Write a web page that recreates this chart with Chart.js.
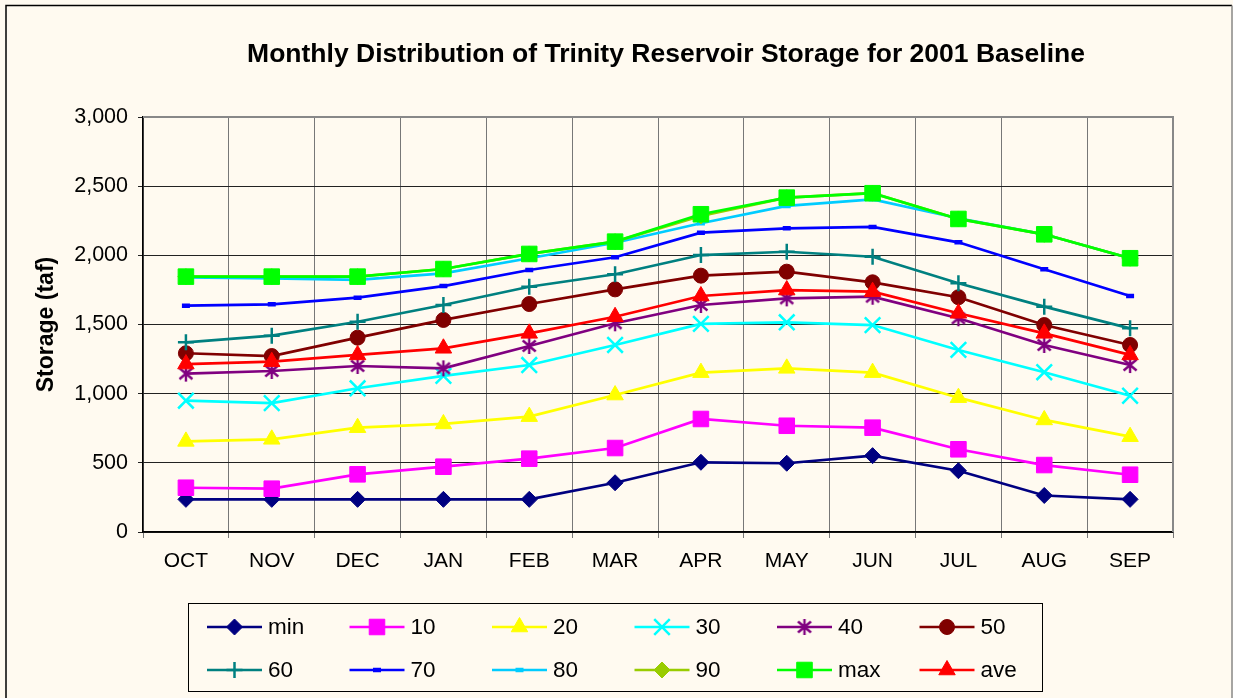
<!DOCTYPE html>
<html>
<head>
<meta charset="utf-8">
<script src="https://cdn.jsdelivr.net/npm/chart.js@4.4.1/dist/chart.umd.min.js"></script>
<style>
  html, body { margin: 0; padding: 0; background: #fffaf0; }
  canvas { display: block; }
</style>
</head>
<body>
<canvas id="storage-chart" width="1233" height="698"></canvas>
<script>
// Data (taf)
const months = ['OCT', 'NOV', 'DEC', 'JAN', 'FEB', 'MAR', 'APR', 'MAY', 'JUN', 'JUL', 'AUG', 'SEP'];
const yTicks = [0, 500, 1000, 1500, 2000, 2500, 3000];

const minVals = [236, 236, 236, 236, 236, 356, 504, 497, 552, 443, 264, 236];
const p10 = [320, 313, 417, 472, 530, 607, 817, 768, 754, 598, 484, 414];
const p20 = [655, 670, 754, 781, 834, 990, 1152, 1183, 1152, 971, 810, 689];
const p30 = [949, 932, 1039, 1128, 1207, 1352, 1504, 1516, 1496, 1316, 1155, 985];
const p40 = [1145, 1164, 1200, 1183, 1345, 1509, 1641, 1689, 1701, 1545, 1352, 1207];
const p50 = [1292, 1272, 1405, 1533, 1648, 1754, 1853, 1882, 1805, 1697, 1496, 1352];
const p60 = [1371, 1419, 1520, 1641, 1773, 1863, 2002, 2026, 1990, 1798, 1629, 1472];
const p70 = [1636, 1646, 1694, 1778, 1894, 1986, 2164, 2195, 2205, 2094, 1899, 1706];
const p80 = [1841, 1834, 1822, 1870, 1979, 2091, 2232, 2357, 2405, 2268, 2152, 1979];
const p90 = [1846, 1846, 1846, 1901, 2010, 2099, 2285, 2417, 2449, 2263, 2152, 1979];
const maxVals = [1846, 1846, 1846, 1901, 2010, 2099, 2297, 2417, 2449, 2263, 2152, 1979];
const aveVals = [1214, 1231, 1280, 1328, 1436, 1556, 1706, 1749, 1737, 1581, 1436, 1280];

const bg = '#fffaf0';
const font = '"Liberation Sans", Arial, sans-serif';

// Excel-like asterisk marker (vertical bar plus an X)
function makeAsterisk(color) {
    let c = document.createElement('canvas');
    c.width = 18;
    c.height = 18;
    let g = c.getContext('2d');
    g.strokeStyle = color;
    g.lineWidth = 2.4;
    g.beginPath();
    g.moveTo(9, 1); g.lineTo(9, 17);
    g.moveTo(2.5, 3.5); g.lineTo(15.5, 14.5);
    g.moveTo(15.5, 3.5); g.lineTo(2.5, 14.5);
    g.stroke();
    return c;
}

function series(label, data, color, style, radius, borderW) {
    return {
        label: label,
        data: data,
        borderColor: color,
        backgroundColor: color,
        borderWidth: 2.7,
        pointStyle: style,
        pointRadius: radius,
        pointBackgroundColor: color,
        pointBorderColor: color,
        pointBorderWidth: borderW || 1,
        tension: 0,
        fill: false
    };
}

let datasets = [
    series('min', minVals, '#000080', 'rectRot', 8),
    series('10', p10, '#ff00ff', 'rect', 11),
    series('20', p20, '#ffff00', 'triangle', 9.5),
    series('30', p30, '#00ffff', 'crossRot', 11, 2.5),
    series('40', p40, '#800080', makeAsterisk('#800080'), 9),
    series('50', p50, '#800000', 'circle', 7.5),
    series('60', p60, '#008080', 'cross', 8, 2.5),
    series('70', p70, '#0000ff', 'line', 4, 4.5),
    series('80', p80, '#00ccff', 'line', 4, 4.5),
    series('90', p90, '#99cc00', 'rectRot', 8),
    series('max', maxVals, '#00ff00', 'rect', 11),
    series('ave', aveVals, '#ff0000', 'triangle', 9.5)
];
// later series sit on top, like the original
datasets.forEach(function(ds, i) { ds.order = -i; });

// Background, frame, title and boxed legend
let framePlugin = {
    id: 'frame',
    beforeDraw: function(chart) {
        let ctx = chart.ctx;
        ctx.save();
        ctx.fillStyle = bg;
        ctx.fillRect(0, 0, chart.width, chart.height);
        ctx.lineWidth = 1.5;
        ctx.strokeStyle = '#000';
        ctx.beginPath();
        ctx.moveTo(6, 698); ctx.lineTo(6, 5.5); ctx.lineTo(1232, 5.5);
        ctx.stroke();
        ctx.strokeStyle = '#888';
        ctx.beginPath();
        ctx.moveTo(1232, 5.5); ctx.lineTo(1232, 698);
        ctx.stroke();
        ctx.restore();
    },
    beforeDatasetsDraw: function(chart) {
        let a = chart.chartArea;
        let ctx = chart.ctx;
        ctx.save();
        ctx.strokeStyle = '#888';
        ctx.lineWidth = 2;
        ctx.beginPath();
        ctx.moveTo(a.left, a.top); ctx.lineTo(a.right, a.top); ctx.lineTo(a.right, a.bottom);
        ctx.stroke();
        ctx.restore();
    },
    afterDraw: function(chart) {
        let ctx = chart.ctx;
        ctx.save();
        ctx.fillStyle = '#000';
        ctx.font = 'bold 26.5px ' + font;
        ctx.textAlign = 'center';
        ctx.textBaseline = 'middle';
        ctx.fillText('Monthly Distribution of Trinity Reservoir Storage for 2001 Baseline', 666, 55);

        // legend box
        ctx.strokeStyle = '#000';
        ctx.lineWidth = 1;
        ctx.strokeRect(188.5, 603.5, 854, 88);
        ctx.font = '22.5px ' + font;
        ctx.textAlign = 'left';
        chart.data.datasets.forEach(function(ds, i) {
            let col = i % 6;
            let row = Math.floor(i / 6);
            let x = 207 + col * 142.5;
            let y = row ? 670 : 627;
            ctx.strokeStyle = ds.borderColor;
            ctx.lineWidth = ds.borderWidth;
            ctx.beginPath();
            ctx.moveTo(x, y); ctx.lineTo(x + 55, y);
            ctx.stroke();
            ctx.fillStyle = ds.pointBackgroundColor;
            ctx.strokeStyle = ds.pointBorderColor;
            ctx.lineWidth = ds.pointBorderWidth;
            Chart.helpers.drawPoint(ctx, {
                pointStyle: ds.pointStyle,
                radius: ds.pointRadius,
                borderWidth: ds.pointBorderWidth,
                rotation: 0
            }, x + 27.5, y);
            ctx.fillStyle = '#000';
            ctx.fillText(ds.label, x + 61, y + 1);
        });
        ctx.restore();
    }
};

let chartDom = document.getElementById('storage-chart').getContext('2d');
let chartJS = new Chart(chartDom, {
    type: 'line',
    data: { labels: months, datasets: datasets },
    plugins: [framePlugin],
    options: {
        responsive: false,
        animation: false,
        events: [],
        layout: { padding: { top: 117, left: 0, right: 60, bottom: 0 } },
        plugins: {
            legend: { display: false },
            title: { display: false },
            tooltip: { enabled: false }
        },
        scales: {
            x: {
                offset: true,
                afterFit: function(scale) { scale.height = 166; },
                grid: {
                    offset: true,
                    color: '#777',
                    lineWidth: 1,
                    tickLength: 6
                },
                border: { color: '#000', width: 1.5 },
                ticks: {
                    color: '#000',
                    padding: 11,
                    maxRotation: 0,
                    font: { family: font, size: 21 }
                }
            },
            y: {
                min: 0,
                max: 3000,
                afterFit: function(scale) { scale.width = 143; },
                afterBuildTicks: function(scale) {
                    scale.ticks = yTicks.map(function(v) { return { value: v }; });
                },
                grid: {
                    color: '#222',
                    lineWidth: 1,
                    tickLength: 5
                },
                border: { color: '#000', width: 1.5 },
                title: {
                    display: true,
                    text: 'Storage (taf)',
                    color: '#000',
                    padding: { top: 33, bottom: 0 },
                    font: { family: font, size: 23, weight: 'bold' }
                },
                ticks: {
                    color: '#000',
                    padding: 10,
                    font: { family: font, size: 21.5 },
                    callback: function(v) { return v.toLocaleString('en-US'); }
                }
            }
        }
    }
});
</script>
</body>
</html>
